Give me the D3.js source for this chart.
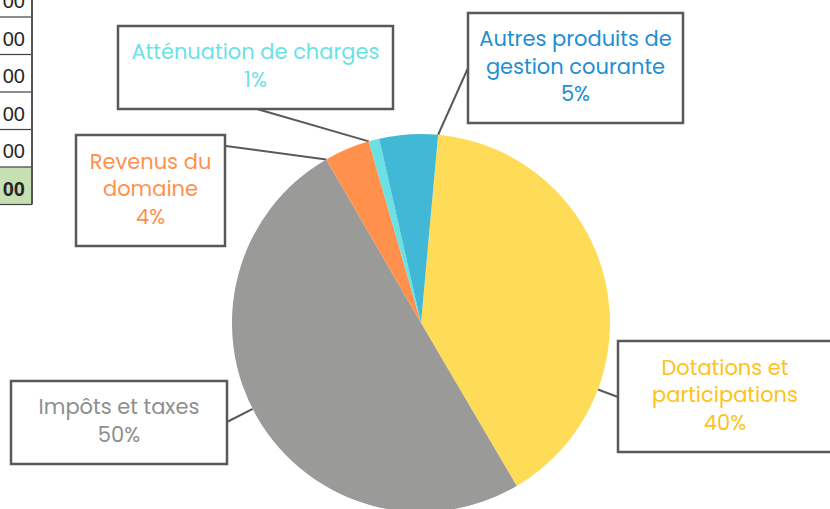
<!DOCTYPE html>
<html>
<head>
<meta charset="utf-8">
<script src="https://cdn.jsdelivr.net/npm/d3@7"></script>
<style>
  body { margin: 0; background: #fff; }
  svg { display: block; }
</style>
</head>
<body>
<div id="chart"></div>
<script>
// data
var categories = ["Dotations et participations", "Impôts et taxes", "Revenus du domaine", "Atténuation de charges", "Autres produits de gestion courante"];
var shares = [40.1, 50.1, 3.9, 0.9, 5.0];
var sliceColors = ["#FFDC57", "#9A9B99", "#FF914D", "#6BE1E4", "#42B8D7"];
var labelColors = ["#FFC21A", "#8E8E8E", "#FF914D", "#6BE1E8", "#1F8ED2"];
var labelLines = [["Dotations et", "participations"], ["Impôts et taxes"], ["Revenus du", "domaine"], ["Atténuation de charges"], ["Autres produits de", "gestion courante"]];
var tableCells = ["00", "00", "00", "00", "00", "00"];

var width = 830, height = 509;
var cx = 421, cy = 323, radius = 189;
var startDeg = 5.2;

// label boxes and where the leader leaves them
var boxes = [
    {x: 618, y: 341, w: 214, h: 111, ax: 618, ay: 397},
    {x: 11, y: 381, w: 216, h: 83, ax: 227, ay: 422},
    {x: 76, y: 135, w: 149, h: 111, ax: 226, ay: 146},
    {x: 118, y: 26, w: 275, h: 83, ax: 257, ay: 109},
    {x: 468, y: 13, w: 215, h: 110, ax: 468, ay: 68}
];

var svg = d3.select("#chart").append("svg")
    .attr("width", width)
    .attr("height", height);

// table fragment on the left (column cut by the window edge)
var rowH = 37.5, firstBottom = 17;
var tbl = svg.append("g");
tbl.append("rect")
    .attr("x", 0).attr("y", firstBottom + 4 * rowH)
    .attr("width", 32).attr("height", rowH)
    .attr("fill", "#C6E0B4");
tableCells.forEach(function(t, i) {
    var yb = firstBottom + i * rowH;
    tbl.append("line")
        .attr("x1", 0).attr("x2", 32)
        .attr("y1", yb).attr("y2", yb)
        .attr("stroke", "#404040").attr("stroke-width", 1.2);
    tbl.append("text")
        .attr("x", 25).attr("y", yb - 9)
        .attr("text-anchor", "end")
        .style("font-family", "'Liberation Sans', Arial, sans-serif")
        .style("font-size", "20px")
        .style("font-weight", i === tableCells.length - 1 ? "bold" : "normal")
        .attr("fill", "#262626")
        .text(t);
});
tbl.append("line")
    .attr("x1", 32).attr("x2", 32)
    .attr("y1", 0).attr("y2", firstBottom + 5 * rowH)
    .attr("stroke", "#555").attr("stroke-width", 2);

var pie = d3.pie()
    .sort(null)
    .startAngle(startDeg * Math.PI / 180)
    .endAngle(startDeg * Math.PI / 180 + 2 * Math.PI);

var arcs = pie(shares);
var arc = d3.arc().innerRadius(0).outerRadius(radius);

// leader lines: nearest point on the slice edge
var lines = svg.append("g");
arcs.forEach(function(a, i) {
    var b = boxes[i];
    var th = Math.atan2(b.ax - cx, -(b.ay - cy));
    while (th < a.startAngle) th += 2 * Math.PI;
    while (th > a.startAngle + 2 * Math.PI) th -= 2 * Math.PI;
    if (th > a.endAngle) {
        var dEnd = th - a.endAngle;
        var dStart = a.startAngle + 2 * Math.PI - th;
        th = dEnd < dStart ? a.endAngle : a.startAngle;
    }
    lines.append("line")
        .attr("x1", b.ax).attr("y1", b.ay)
        .attr("x2", cx + radius * Math.sin(th))
        .attr("y2", cy - radius * Math.cos(th))
        .attr("stroke", "#595959")
        .attr("stroke-width", 2);
});

svg.append("g")
    .attr("transform", "translate(" + cx + "," + cy + ")")
    .selectAll("path")
    .data(arcs)
    .enter().append("path")
    .attr("d", arc)
    .attr("fill", (d, i) => sliceColors[i]);

// label boxes
var lab = svg.selectAll("g.label")
    .data(arcs)
    .enter().append("g")
    .attr("class", "label");

lab.append("rect")
    .attr("x", (d, i) => boxes[i].x)
    .attr("y", (d, i) => boxes[i].y)
    .attr("width", (d, i) => boxes[i].w)
    .attr("height", (d, i) => boxes[i].h)
    .attr("fill", "#fff")
    .attr("stroke", "#595959")
    .attr("stroke-width", 2.5);

lab.each(function(d, i) {
    var b = boxes[i];
    var pct = Math.round(d.value / d3.sum(shares) * 100) + "%";
    var rows = labelLines[i].concat([pct]);
    var mid = b.y + b.h / 2 + 5.5;
    var t = d3.select(this).append("text")
        .attr("text-anchor", "middle")
        .style("font-family", "Poppins, 'Open Sans', sans-serif")
        .style("font-size", "21px")
        .attr("fill", labelColors[i]);
    rows.forEach(function(r, k) {
        t.append("tspan")
            .attr("x", b.x + b.w / 2)
            .attr("y", mid + (k - (rows.length - 1) / 2) * 27.5)
            .text(r);
    });
});
</script>
</body>
</html>
